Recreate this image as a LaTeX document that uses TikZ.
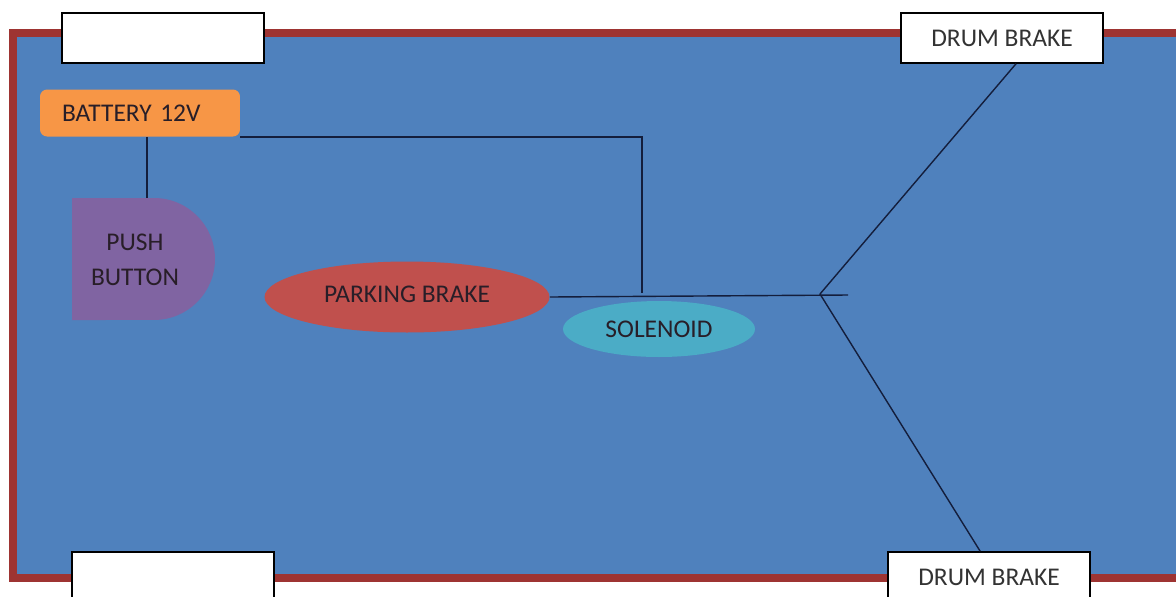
\documentclass[tikz,border=0pt]{standalone}
\usepackage{fontspec}
\setmainfont{Carlito}
\usetikzlibrary{shapes.geometric}

\definecolor{panelblue}{RGB}{79,129,189}
\definecolor{panelred}{RGB}{158,52,50}
\definecolor{battorange}{RGB}{247,150,70}
\definecolor{btnpurple}{RGB}{128,100,162}
\definecolor{brakered}{RGB}{192,80,77}
\definecolor{solcyan}{RGB}{75,172,198}
\definecolor{wirenavy}{RGB}{20,30,60}
\definecolor{inkdark}{RGB}{40,30,40}

\begin{document}
\begin{tikzpicture}[x=0.02cm,y=-0.02cm,
  font=\fontsize{14.5}{17}\selectfont,
  label box/.style={rectangle,draw=black,thick,fill=white,minimum width=4.04cm,minimum height=1cm,text=black!80},
  wire/.style={draw=wirenavy,line width=0.8pt},
  blob/.style={ellipse,text=inkdark,inner sep=0pt}]
  \useasboundingbox (0,0) rectangle (1176,596);
  % panel
  \fill[white] (0,0) rectangle (1176,596);
  \draw[panelred,line width=5pt,fill=panelblue] (13,33) rectangle (1200,578);

  % labels on the frame
  \node[label box] (tl) at (163,38) {};
  \node[label box] (bl) at (173,577) {};
  \node[label box] (drum1) at (1002,38) {DRUM BRAKE};
  \node[label box] (drum2) at (989,577) {DRUM BRAKE};

  % parts
  \node[rectangle,rounded corners=4pt,fill=battorange,text=inkdark,minimum width=4cm,minimum height=0.94cm,align=left,text width=3.12cm] (battery) at (140,113) {BATTERY 12V};
  \fill[btnpurple] (72,198) -- (154,198) arc[start angle=90,end angle=-90,radius=1.22cm] -- (72,320) -- cycle;
  \node[align=center,text=inkdark] (push) at (135,260) {PUSH\\[3pt]BUTTON};
  \coordinate (btntop) at (147,198);
  \node[blob,fill=brakered,minimum width=5.7cm,minimum height=1.42cm] (parking) at (407,297) {\raisebox{3pt}{PARKING BRAKE}};
  \node[blob,fill=solcyan,minimum width=3.84cm,minimum height=1.12cm] (solenoid) at (659,329) {SOLENOID};

  % wiring
  \coordinate (tee) at (642,293);
  \coordinate (fork) at (820,294);
  \coordinate (stub) at (848,295);
  \draw[wire] (btntop |- battery.south) -- (btntop);
  \draw[wire] (battery.south east) -| (tee);
  \draw[wire] (parking.east) -- (stub);
  \draw[wire] (fork) -- ([xshift=8pt]drum1.south);
  \draw[wire] (fork) -- ([xshift=-5pt]drum2.north);
\end{tikzpicture}
\end{document}
